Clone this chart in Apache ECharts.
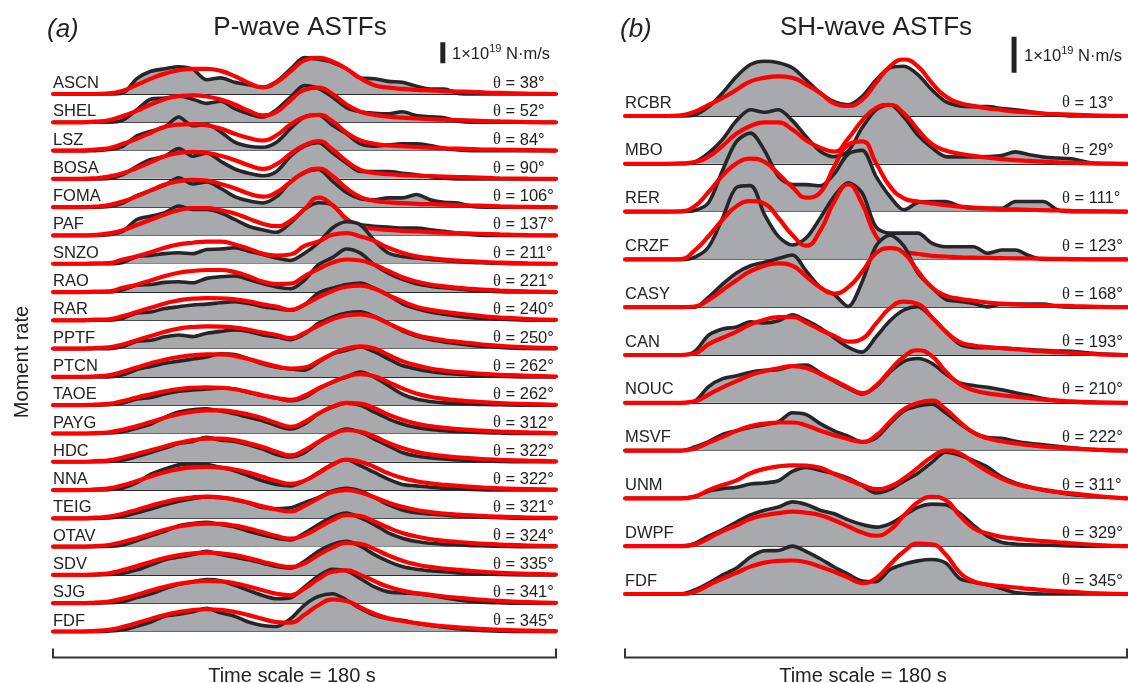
<!DOCTYPE html>
<html><head><meta charset="utf-8">
<script src="https://cdn.jsdelivr.net/npm/echarts@6/dist/echarts.min.js"></script>
<style>html,body{margin:0;padding:0;background:#fff}#c{width:1128px;height:683px}</style>
</head><body><div id="c"></div>
<script>
// ---- time samples (s) ----
const T = [0,10,15,20,25,30,35,40,45,50,55,60,65,70,75,80,85,90,95,100,105,110,115,120,125,130,135,140,145,150,155,160,170,180];

// ---- P-wave ASTFs (units: 1e18 N·m/s) ----
const ASCN_obs = [0,0,0,0, 0.5,7.3,10.8,12,13,11.8,6.8,7.7,5.6,4.4, 3.2,6,11.8,17.3,16.5,15,12,7.6,7.3,6, 5.6,3.7,2.4,2.4,0.3,0,0,0,0,0];
const ASCN_mod = [0,0,0,0.3, 1.6,4.4,7.3,9.7,11.3,12,12,11,8.5,5.3, 3.2,5.6,10.8,16,17.2,15.5,12,7.5,4.2,3, 2.4,2,1.7,1.4,1.2,1,0.7,0.5,0.2,0];
const SHEL_obs = [0,0,0,0, 1,6,11,11.5,12.5,11,9,10,6.5,4, 2.5,6,12,17.5,16,12,7,5,4.3,4, 5,3.2,2.6,2.2,0.5,0,0,0,0,0];
const SHEL_mod = [0,0,0.3,1, 3,5.5,8.5,11,12.5,12.8,12.3,10.8,8.5,5.5, 3.3,5,10.5,15.5,16.5,13.5,8.5,5,3.5,2.7, 2.2,1.8,1.5,1.2,1,0.8,0.6,0.4,0.1,0];
const LSZ_obs = [0,0,0,0.5, 2,7,9.2,11.3,16,11.8,12.4,8.9,4,2.1, 1.6,4,10.5,16,17,12,8,3.2,2.1,2.7, 3.2,3.2,2.4,1.1,0.3,0,0,0,0,0];
const LSZ_mod = [0,0,0.5,1.1, 3.2,5.6,8.5,11.3,12.4,12.6,12,10.5,8,6, 4.8,7.3,12.4,16,17,14,8.5,4.8,3.2,2.5, 2.1,1.7,1.4,1.1,0.9,0.7,0.5,0.4,0.2,0];
const BOSA_obs = [0,0,0,0.2, 2,6,9.2,10.8,14.4,10.8,12.4,8.4,4.7,2.7, 1.5,3.5,10.8,15.6,17.2,12.4,7.6,3.5,3.5,3.5, 2.7,2,1.1,0.3,0,0,0,0,0,0];
const BOSA_mod = [0,0,0.3,1.1, 2.7,5.2,8,10.8,12.4,12.9,12.4,11,9,6.5, 4.8,7,12,16,18,14,8.5,4.3,2.8,2.2, 1.8,1.5,1.3,1.1,0.9,0.7,0.5,0.3,0.1,0];
const FOMA_obs = [0,0,0,0.3, 2,5.5,8,10.5,14,11,12,9,5,3, 2,5,12,16.5,18,12.4,7,4,3.5,4.4, 4.4,6,3.5,2.3,2,0.3,0,0,0,0];
const FOMA_mod = [0,0,0.3,1, 2.7,5.2,8,10.8,12.4,13,12.6,11,9,6.5, 5,7,12,16.5,18.4,14.8,9,4.8,3,2.3, 1.9,1.6,1.4,1.2,1,0.8,0.6,0.4,0.1,0];
const PAF_obs = [0,0,0,0.3, 2,7.6,9.2,10.8,14,12.4,12.4,10.8,7.6,4.4, 2.7,1.5,6,12.4,15.6,14.5,7.6,5.2,4.4,4, 3.5,3.5,2.7,2,1.1,0.3,0,0,0,0];
const PAF_mod = [0,0,0.3,1, 2.5,5,7.5,10,12,13,13,12,10.5,8, 5.6,4.4,7,12.5,18,14.5,8,4.2,3.2,2.6, 2.2,1.9,1.6,1.3,1.1,0.9,0.7,0.5,0.2,0];
const SNZO_obs = [0,0,0,0, 0.6,3.5,4,4.8,5.2,4.8,6.8,7,7.6,6, 4.4,2.7,1.6,5,10,17,20,18.5,11,5.1, 3.5,2.7,2,1.5,1,0.6,0.4,0.2,0,0];
const SNZO_mod = [0,0,0.2,0.3, 2,3.5,5.5,7.6,9.2,10,10.5,10.5,9.2,7.2, 4.8,3.9,4.4,8.5,10.6,13.8,14.6,13,10.8,7.6, 5.2,3.5,2.7,2,1.5,1.1,0.8,0.5,0.2,0];
const RAO_obs = [0,0,0,0, 1.1,3.3,3.6,4.6,4.9,4.4,6.5,7.3,7.6,6, 4,2.4,1.6,5.7,13,16.4,20.5,18.5,13,9, 6,4,2.8,2,1.5,0.8,0.5,0.2,0,0];
const RAO_mod = [0,0,0.2,0.3, 2,3.5,5.5,7.6,9.2,10,10.5,10.5,9.5,7.5, 5,3.8,4,7.5,11,14,15.5,15,13,10, 7,5,3.6,2.7,2,1.5,1,0.7,0.3,0];
const RAR_obs = [0,0,0,0, 1,3.5,4,5.6,6.5,7.3,7.7,8.4,8.9,8, 6.5,5.6,4.8,7.3,13,15.3,17,17.7,15.3,12, 8,5.6,4,2.9,2,1.3,0.9,0.5,0.1,0];
const RAR_mod = [0,0,0.3,0.5, 2,4,6,8,9.5,10.3,10.6,10.5,10,9, 7.6,6.5,5,7.5,11,14,16,16.5,15,12, 9,6.5,5,4,3.2,2.5,1.8,1.3,0.6,0.2];
const PPTF_obs = [0,0,0,0, 1,3.5,4,5.6,6.5,5.7,7.3,8.2,8.9,8.2, 6.5,5.5,4.3,7,12,15,17,17.5,15.3,12, 8.5,6,4.3,3.2,2.3,1.5,1,0.6,0.1,0];
const PPTF_mod = [0,0,0.3,0.6, 2,4,6,8,9.5,10.3,10.6,10.5,10,9, 7.6,6.5,5,7.5,11,14,15.8,16.3,15,12, 9,6.5,5,4,3.2,2.5,1.8,1.3,0.6,0.2];
const PTCN_obs = [0,0,0,0, 1,3.5,5,6.5,7.5,8.5,9.5,11,10.7,8.6, 6.2,4.6,3.8,3.2,7,11,12.7,14.3,12,8.6, 5.4,3.8,2.6,1.8,1.3,0.8,0.5,0.3,0,0];
const PTCN_mod = [0,0,0.3,0.8, 2.5,4.5,6.5,8.2,9.5,10.3,10.7,10.7,10,8.5, 6.7,5,4,4.5,7.5,11,13.5,14.5,13.5,10.5, 7.5,5.5,4,3,2.3,1.8,1.3,1,0.5,0.2];
const TAOE_obs = [0,0,0,0.2, 1,2.9,3.7,5.3,6.6,7.3,7.7,8.2,7.7,6.1, 4.5,3.4,2.1,3.7,7.7,11,13.4,15.8,13.4,9.4, 5.3,2.9,1.8,1.1,0.8,0.5,0.3,0.2,0,0];
const TAOE_mod = [0,0,0.3,0.6, 2,3.7,5.2,6.6,7.7,8.3,8.5,8.3,7.6,6.3, 4.7,3.4,2.6,4.5,8,11,13.5,14.8,13.8,11, 8,5.6,4,3,2.3,1.8,1.3,1,0.5,0.2];
const PAYG_obs = [0,0,0,0.2, 0.8,2.5,4.5,7.7,10.2,11.3,11.8,10.7,9.4,7.7, 6.1,3.7,2.1,4.5,9.4,12.6,14.4,13.4,10.2,7, 4.5,2.9,1.9,1.3,0.9,0.6,0.4,0.2,0,0];
const PAYG_mod = [0,0,0.2,0.6, 1.8,3.5,5.5,7.5,9.2,10.4,11,11,10.3,9, 7.3,5,3.2,5.5,9.5,12.8,14.6,14.2,12,9, 6.5,4.7,3.5,2.7,2.1,1.6,1.2,0.9,0.5,0.2];
const HDC_obs = [0,0,0,0.2, 0.8,2.5,4.4,6.5,8.7,9.7,11.6,10.3,9.7,8.1, 6,3.5,2.3,4.4,9.2,13.2,15.6,14,10.8,7.6, 4.4,2.7,1.9,1.3,0.9,0.6,0.4,0.2,0,0];
const HDC_mod = [0,0,0.3,0.7, 2,3.7,5.5,7.3,9,10.3,11,11,10.3,8.8, 7,4.8,3,5.5,9.5,13,15,14.3,12,9, 6.5,4.7,3.5,2.7,2.1,1.6,1.2,0.9,0.5,0.2];
const NNA_obs = [0,0,0,0.2, 1,3.5,7.6,10,12,12.4,12.1,10.8,9.2,6.8, 4.4,2.7,2,4.4,8.4,12.4,14.4,11.6,8.4,5.2, 2.7,2,1.3,0.8,0.5,0.3,0.1,0,0,0];
const NNA_mod = [0,0,0.3,0.8, 2.3,4.3,6.5,8.5,10,10.8,11,10.7,9.8,8.3, 6.3,4.3,3,4.5,8,12,14.5,13.5,11,8, 5.7,4.2,3.2,2.5,2,1.5,1.1,0.8,0.4,0.2];
const TEIG_obs = [0,0,0,0.2, 1,2.7,4.5,6.5,8.2,9.4,10.2,9.8,8.8,7.3, 5.2,4.6,5,7.5,10,13,14.3,13,10,6.5, 4,2.7,2.1,1.6,1.1,0.8,0.5,0.3,0,0];
const TEIG_mod = [0,0,0.3,0.8, 2.2,4,6,7.8,9.2,10,10.3,10,9,7.5, 5.7,4.2,3.3,6,9.5,12.5,13.4,12.3,10,7.5, 5.5,4,3,2.3,1.8,1.4,1.1,0.8,0.4,0.2];
const OTAV_obs = [0,0,0,0.2, 0.8,2.9,5.2,7.3,10,11,11.6,10.5,9.4,7.3, 5.6,4,3.2,6.5,10.5,14.2,16,13.7,10.5,6.5, 4,2.4,1.6,1.1,0.8,0.5,0.3,0.2,0,0];
const OTAV_mod = [0,0,0.3,0.8, 2.2,4,6,8,9.6,10.6,11,10.8,10,8.6, 6.8,5,3.8,5.5,9,12.6,15,14.5,12,9, 6.5,4.8,3.6,2.8,2.2,1.7,1.3,1,0.5,0.2];
const SDV_obs = [0,0,0,0.2, 0.8,2.4,4.8,7.2,8.5,9.7,11.3,9.7,8.5,7.2, 5.6,4,3.2,6.5,11.3,14.5,16,13.7,9.7,6.5, 4,2.7,2,1.5,1,0.6,0.4,0.2,0,0];
const SDV_mod = [0,0,0.3,0.8, 2.3,4.2,6.2,8,9.4,10.3,10.6,10.3,9.4,8, 6.3,4.7,3.8,5.5,9.5,13,15.3,14.8,12.3,9.3, 6.8,5,3.8,3,2.4,1.8,1.4,1,0.5,0.2];
const SJG_obs = [0,0,0,0.2, 0.8,2.7,4.5,6.9,9,10.2,11.3,10.7,8.5,6.1, 3.7,2.1,2.6,7.8,13,16.2,15.5,11.8,7.8,5.4, 4.9,4.5,3.7,2.6,1.6,0.8,0.4,0.2,0,0];
const SJG_mod = [0,0,0.3,0.8, 2.2,4,6,7.8,9.2,10.2,10.6,10.4,9.5,8, 6.2,4.5,3.8,7,11.5,15,15.6,13.5,10.5,7.8, 6,4.8,4,3.2,2.6,2,1.5,1.1,0.5,0.2];
const FDFP_obs = [0,0,0,0.2, 0.8,2.5,4.5,7.3,8.2,9.4,11,8.9,7.3,4.5, 2.9,2.4,6.1,12.6,16.7,18,15,11,7.8,6.1, 5.3,4,2.9,2.1,1.3,0.8,0.4,0.2,0,0];
const FDFP_mod = [0,0,0.3,0.8, 2.2,4,6,7.8,9.2,10.2,10.6,10.3,9.3,7.8, 6,4.5,4.2,8,12.5,15.3,14.5,11.5,8.5,6.3, 5,4,3.2,2.5,2,1.5,1.1,0.8,0.4,0.2];

// ---- SH-wave ASTFs (units: 1e18 N·m/s) ----
const RCBR_obs = [0,0,0,0, 0.3,2.6,6.4,11,14.3,15.2,14.8,13.4,10,6.4, 4,3.1,5.4,10,13.4,13.8,11.5,7.3,4,2.8, 2.6,2.6,2.1,1.7,1.2,0.7,0.3,0,0,0];
const RCBR_mod = [0,0,0,0.2, 1.2,3.1,5,7.3,9.6,10.6,11,10.6,8.7,6.4, 3.5,2.8,4.5,9.2,13.8,15.7,13.8,9.2,5.4,3.6, 2.8,2.1,1.7,1.2,1,0.7,0.5,0.4,0.1,0];
const MBO_obs = [0,0,0,0, 0.5,3,6.8,12,15,14.3,15,12,7.5,3.5, 2,3.5,10,15,16.4,13,8,4.5,2,1.9, 1.9,2,2.3,3.3,2.5,1.9,1.6,1.4,0,0];
const MBO_mod = [0,0,0,0.1, 0.5,2,5,8.4,10.5,11.5,11.5,9.5,6.5,4.5, 3.4,7,12,15.5,16.4,14,9.5,5.5,3.7,2.8, 2.2,1.7,1.3,1,0.8,0.6,0.4,0.3,0.1,0];
const RER_obs = [0,0,0,0, 0.3,2.5,11.5,19.5,21.8,17,9.8,7.5,7.5,7.2, 10.5,16,17,9.8,4.2,0.5,2.5,2.8,2.8,1.5, 0.9,0.9,0.9,2.8,2.8,2.8,0.5,0,0,0];
const RER_mod = [0,0,0,0.1, 1.5,5.5,10,13.4,14.7,13.8,10.5,6.8,3.9,5.3, 12.5,18.5,19.5,13.5,7,3.7,2.8,2.3,1.8,1.4, 1.1,0.9,0.7,0.6,0.5,0.4,0.3,0.2,0.1,0];
const CRZF_obs = [0,0,0,0, 0.6,3.5,11.5,20,20.5,12.5,6.4,4,6,11.5, 17.5,21.3,18.5,9,7.3,7.3,7.3,4.5,3.5,3.5, 3.5,1.7,2.6,2.6,1,0,0,0,0,0];
const CRZF_mod = [0,0,0,0.1, 2.5,6.5,11,14.8,16.2,15.5,11.5,6.8,3.8,8, 16,20.8,15.5,6.5,3.2,2.1,1.5,1,0.8,0.6, 0.5,0.4,0.35,0.3,0.25,0.2,0.15,0.1,0,0];
const CASY_obs = [0,0,0,0, 0,2.8,6.4,9.5,11.5,12.5,13.5,14.5,10,5.5, 3.5,0.2,7,17,20,17,9.5,5.5,2.2,1.6, 1,0.1,0.9,0.9,0.9,0.9,0.2,0,0,0];
const CASY_mod = [0,0,0,0, 0.2,2,4.8,7.5,10,11.5,12.2,11.5,8.5,5.5, 3.8,5.5,9.8,15,16.4,15,10,5.6,3.2,2.3, 1.8,1.3,1,0.8,0.6,0.5,0.4,0.3,0.1,0];
const CAN_obs = [0,0,0,0, 1,5.5,7.2,7.8,9.2,8.9,9.5,11.2,9.6,7.5, 4.8,2.2,0.8,5,9.5,12.5,13.4,10.5,6.5,3, 2.1,2,1.9,1.7,1.5,1.3,1.1,1,0.3,0];
const CAN_mod = [0,0,0,0, 0.4,3,4.8,6.5,8.5,9.8,10.5,10.6,9,7, 5.3,3.7,4.5,8.7,13,14.8,14.2,10.5,6.5,3.6, 2.6,2.2,1.9,1.6,1.3,1,0.8,0.6,0.2,0];
const NOUC_obs = [0,0,0,0, 0.5,4.5,6.7,7.5,8.5,9,9.2,10.2,10.5,8.3, 6,4,2.4,4.5,8.5,11.5,12.3,11,8,5.5, 4.8,4.3,3.6,2.8,2,1.2,0.6,0.2,0,0];
const NOUC_mod = [0,0,0,0, 0.4,2.3,4.3,6,7.7,8.8,9.6,10.2,9.7,8, 6.2,4.3,2.7,4.8,9,12.8,14.6,13,8.7,5.2, 3.5,2.6,2.1,1.7,1.3,0.9,0.6,0.4,0.1,0];
const MSVF_obs = [0,0,0,0, 1,2.5,4.5,5.5,6.5,7.2,8,10.5,10,7.5, 5.5,4,2.4,3.5,7.5,11,12.4,12.9,10.5,7.5, 5,3.6,3.4,2.6,2,1.6,1.2,0.8,0.2,0];
const MSVF_mod = [0,0,0,0, 0.6,2.2,3.8,5.5,6.8,7.5,7.8,7.8,7,5.5, 4.3,3.2,2.4,4.2,8,11.5,13.2,13.9,11.5,8, 5,3.4,2.6,2,1.5,1.1,0.8,0.6,0.2,0];
const UNM_obs = [0,0,0,0, 0.5,2,2.7,3.1,4,4.3,4.9,7.5,8.6,7.8, 6.9,5.6,3.6,1.5,2.5,4.8,7,10,12.8,12, 10.5,8.7,6,4.3,3.2,2.3,1.7,1.1,0.5,0];
const UNM_mod = [0,0,0,0, 0.5,2.3,3.7,5,7,8.2,8.9,9.2,9.1,8.5, 6.8,5.2,3.7,2.6,3.3,5.5,8.5,11.5,13.3,12.5, 10,7.5,5.5,4,3.1,2.4,1.8,1.4,0.6,0];
const DWPF_obs = [0,0,0,0, 0.8,2.8,4.6,6.7,8.7,10,10.9,12.3,11.6,10, 9,7.3,6,5.3,6.2,8.5,10.8,11.7,11.5,9.2, 5.8,2.8,1.1,0.6,0.4,0.3,0.2,0.1,0,0];
const DWPF_mod = [0,0,0,0, 0.5,2.2,4.2,5.8,7.6,8.6,9.2,9.6,9.3,8.6, 7.2,5.5,3.8,2.9,4.5,8.5,12.2,13.7,12.8,8.5, 5,3.5,2.6,2.1,1.7,1.4,1.1,0.8,0.3,0];
const FDFS_obs = [0,0,0,0, 1.1,3,5.3,7.2,10.3,12,12.1,13.3,11.8,9.8, 7.5,5.5,3.6,3.4,6.8,8.3,9.2,9.6,8.6,4.3, 3.3,2.6,1.5,0.4,0.1,0,0,0,0,0];
const FDFS_mod = [0,0,0,0, 0.6,2.5,4.3,5.9,7.6,8.7,9.2,9.3,8.8,7.6, 6.2,4.6,3,4.4,8.2,11.8,14,13.8,11,6, 3.5,2.6,2.2,1.8,1.4,1.1,0.8,0.6,0.2,0];

const stationsP = ['ASCN','SHEL','LSZ','BOSA','FOMA','PAF','SNZO','RAO','RAR','PPTF','PTCN','TAOE','PAYG','HDC','NNA','TEIG','OTAV','SDV','SJG','FDF'];
const thetaP = [38,52,84,90,106,137,211,221,240,250,262,262,312,322,322,321,324,335,341,345];
const obsP = [ASCN_obs,SHEL_obs,LSZ_obs,BOSA_obs,FOMA_obs,PAF_obs,SNZO_obs,RAO_obs,RAR_obs,PPTF_obs,PTCN_obs,TAOE_obs,PAYG_obs,HDC_obs,NNA_obs,TEIG_obs,OTAV_obs,SDV_obs,SJG_obs,FDFP_obs];
const modP = [ASCN_mod,SHEL_mod,LSZ_mod,BOSA_mod,FOMA_mod,PAF_mod,SNZO_mod,RAO_mod,RAR_mod,PPTF_mod,PTCN_mod,TAOE_mod,PAYG_mod,HDC_mod,NNA_mod,TEIG_mod,OTAV_mod,SDV_mod,SJG_mod,FDFP_mod];

const stationsS = ['RCBR','MBO','RER','CRZF','CASY','CAN','NOUC','MSVF','UNM','DWPF','FDF'];
const thetaS = [13,29,111,123,168,193,210,222,311,329,345];
const obsS = [RCBR_obs,MBO_obs,RER_obs,CRZF_obs,CASY_obs,CAN_obs,NOUC_obs,MSVF_obs,UNM_obs,DWPF_obs,FDFS_obs];
const modS = [RCBR_mod,MBO_mod,RER_mod,CRZF_mod,CASY_mod,CAN_mod,NOUC_mod,MSVF_mod,UNM_mod,DWPF_mod,FDFS_mod];

// scale bar: 1e19 N·m/s = 10 units
const scaleBarLen = 10;

// ---- layout (pixels) ----
const FONT = '"Liberation Sans", Arial, Helvetica, sans-serif';
const LBL = 16.5;
const PANELS = [
  {key:'P', names:stationsP, theta:thetaP, obs:obsP, mod:modP, left:53, width:503, base0:94, step:28.29, ppu:2.1, ymax:20, labelDy:-10.5, thetaX:493,
   bar:{t:139.5, from:14.6}, barText:{x:452, y:53}, title:'P-wave ASTFs', titleX:300, tag:'(a)', tagX:47, bracketY:657.5, timeX:292},
  {key:'S', names:stationsS, theta:thetaS, obs:obsS, mod:modS, left:625, width:502, base0:116, step:47.8, ppu:3.6, ymax:25, labelDy:-13, thetaX:1062,
   bar:{t:139.5, from:12}, barText:{x:1024, y:55}, title:'SH-wave ASTFs', titleX:876, tag:'(b)', tagX:620, bracketY:657.5, timeX:863}
];

const grids = [], xAxes = [], yAxes = [], series = [], graphics = [];
let gi = 0;
PANELS.forEach(p => {
  p.names.forEach((name, i) => {
    const base = p.base0 + i * p.step;
    const H = p.ymax * p.ppu;
    grids.push({left: p.left, width: p.width, top: base - H, height: H, containLabel: false});
    xAxes.push({type:'value', gridIndex: gi, min:0, max:180, axisLine:{show:true, onZero:false, lineStyle:{color:'#2a2a2a', width:1}},
      axisTick:{show:false}, axisLabel:{show:false}, splitLine:{show:false}});
    yAxes.push({type:'value', gridIndex: gi, min:0, max:p.ymax, show:false, splitLine:{show:false}});
    series.push({type:'line', xAxisIndex: gi, yAxisIndex: gi, data: T.map((t,k)=>[t, p.obs[i][k]]),
      smooth:0.3, symbol:'none', clip:false, z: 10 + gi*2,
      lineStyle:{color:'#26262a', width:3.6}, areaStyle:{color:'#a8a9ac', opacity:1}, silent:true});
    series.push({type:'line', xAxisIndex: gi, yAxisIndex: gi, data: T.map((t,k)=>[t, p.mod[i][k]]),
      smooth:0.5, symbol:'none', clip:false, z: 11 + gi*2,
      lineStyle:{color:'#ff0000', width:4.2, cap:'round'}, silent:true});
    if (i === 0) {
      series.push({type:'line', xAxisIndex: gi, yAxisIndex: gi, data:[[p.bar.t, p.bar.from],[p.bar.t, p.bar.from + scaleBarLen]],
        symbol:'none', clip:false, z: 200, lineStyle:{color:'#222', width:5, cap:'butt'}, silent:true});
    }
    graphics.push({type:'text', x: p.left, y: base + p.labelDy, z: 300,
      style:{text:name, fill:'#222', font:LBL + 'px ' + FONT, textAlign:'left', textVerticalAlign:'middle'}});
    graphics.push({type:'text', x: p.thetaX, y: base + p.labelDy, z: 300,
      style:{text:'{g|θ} = ' + p.theta[i] + '°', fill:'#222', font:LBL + 'px ' + FONT, textAlign:'left', textVerticalAlign:'middle',
        rich:{g:{fontFamily:'"Liberation Serif", "DejaVu Serif", serif', fontSize:LBL, fill:'#222'}}}});
    gi++;
  });
  graphics.push({type:'text', x: p.tagX, y: 30, z: 300, style:{text:p.tag, fill:'#222', font:'italic 26px ' + FONT, textAlign:'left', textVerticalAlign:'middle'}});
  graphics.push({type:'text', x: p.titleX, y: 28, z: 300, style:{text:p.title, fill:'#222', font:'26px ' + FONT, textAlign:'center', textVerticalAlign:'middle'}});
  graphics.push({type:'text', x: p.barText.x, y: p.barText.y, z: 300,
    style:{text:'{n|1×10}{s|19}{n| N·m/s}', fill:'#222', font:'16px ' + FONT, textAlign:'left', textVerticalAlign:'middle',
      rich:{n:{fontSize:16.5, fontFamily:FONT, fill:'#222', lineHeight:20, verticalAlign:'bottom'}, s:{fontSize:11, fontFamily:FONT, fill:'#222', lineHeight:20, verticalAlign:'top'}}}});
  const x0 = p.left, x1 = p.left + p.width;
  graphics.push({type:'polyline', z: 300, shape:{points:[[x0, p.bracketY - 9],[x0, p.bracketY],[x1, p.bracketY],[x1, p.bracketY - 9]]},
    style:{stroke:'#333', lineWidth:2, fill:null}});
  graphics.push({type:'text', x: p.timeX, y: 676, z: 300, style:{text:'Time scale = 180 s', fill:'#222', font:'20px ' + FONT, textAlign:'center', textVerticalAlign:'middle'}});
});
graphics.push({type:'text', x: 22, y: 362, rotation: Math.PI/2, z: 300,
  style:{text:'Moment rate', fill:'#222', font:'20px ' + FONT, textAlign:'center', textVerticalAlign:'middle'}});

const chart = echarts.init(document.getElementById('c'), null, {renderer:'canvas'});
chart.setOption({animation:false, backgroundColor:'#fff', grid:grids, xAxis:xAxes, yAxis:yAxes, series:series, graphic:graphics});
</script></body></html>
